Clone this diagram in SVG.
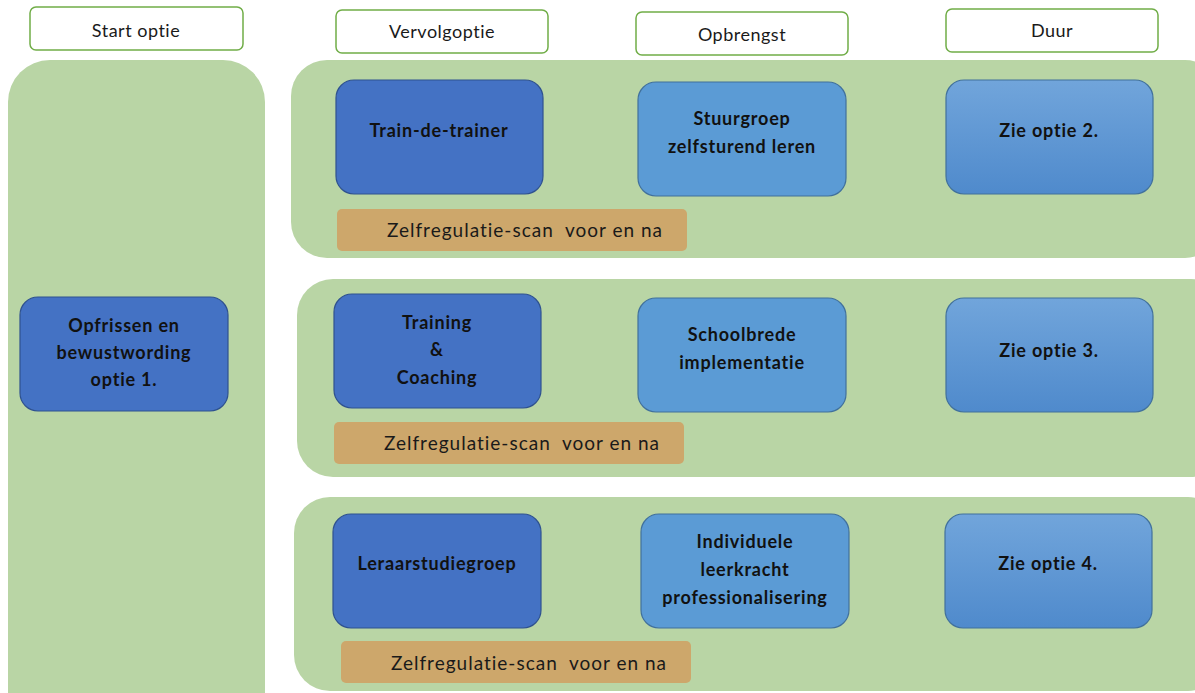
<svg xmlns="http://www.w3.org/2000/svg" width="1195" height="693" viewBox="0 0 1195 693">
<defs>
<linearGradient id="gDur" x1="0" y1="0" x2="0" y2="1">
<stop offset="0" stop-color="#71A5DB"/>
<stop offset="1" stop-color="#4F8ACC"/>
</linearGradient>
<style>
.hdr{fill:#FFFFFF;stroke:#70AD47;stroke-width:1.5}
.panel{fill:#B9D5A5}
.dark{fill:#4472C4;stroke:#2F528F;stroke-width:1.2}
.mid{fill:#5B9BD5;stroke:#41719C;stroke-width:1.2}
.dur{fill:url(#gDur);stroke:#41719C;stroke-width:1.2}
.tan{fill:#CDA76B}
.ht{font-family:Lato,"Liberation Sans",sans-serif;font-size:18px;letter-spacing:0.5px;fill:#1A1A1A;text-anchor:middle}
.bt{font-family:Lato,"Liberation Sans",sans-serif;font-size:18px;letter-spacing:0.8px;font-weight:bold;fill:#111111;text-anchor:middle}
.st{font-family:Lato,"Liberation Sans",sans-serif;font-size:19px;letter-spacing:1px;fill:#1A1A1A;text-anchor:middle;white-space:pre}
</style>
</defs>
<rect width="1195" height="693" fill="#FFFFFF"/>

<g id="headers">
<g id="h-start"><rect class="hdr" x="30" y="7" width="213" height="43" rx="6"/><text class="ht" x="136" y="37">Start optie</text></g>
<g id="h-vervolg"><rect class="hdr" x="336" y="10" width="212" height="43" rx="6"/><text class="ht" x="442" y="38">Vervolgoptie</text></g>
<g id="h-opbrengst"><rect class="hdr" x="636" y="12" width="212" height="43" rx="6"/><text class="ht" x="742" y="41">Opbrengst</text></g>
<g id="h-duur"><rect class="hdr" x="946" y="9" width="212" height="43" rx="6"/><text class="ht" x="1052" y="37">Duur</text></g>
</g>

<g id="panels">
<rect id="p-start" class="panel" x="8" y="60" width="257" height="680" rx="42"/>
<rect id="p-row1" class="panel" x="291" y="60" width="930" height="198" rx="36"/>
<rect id="p-row2" class="panel" x="297" y="279" width="930" height="198" rx="36"/>
<rect id="p-row3" class="panel" x="294" y="497" width="930" height="194" rx="36"/>
<rect x="1195" y="0" width="40" height="693" fill="#FFFFFF"/>
</g>

<g id="connectors"></g>

<g id="n-opfrissen"><rect class="dark" x="20" y="297" width="208" height="114" rx="18"/>
<text class="bt" x="124" y="332">Opfrissen en</text><text class="bt" x="124" y="359">bewustwording</text><text class="bt" x="124" y="386">optie 1.</text></g>

<g id="n-train"><rect class="dark" x="336" y="80" width="207" height="114" rx="18"/><text class="bt" x="439" y="137">Train-de-trainer</text></g>
<g id="n-stuurgroep"><rect class="mid" x="638" y="82" width="208" height="114" rx="18"/><text class="bt" x="742" y="125">Stuurgroep</text><text class="bt" x="742" y="153">zelfsturend leren</text></g>
<g id="n-optie2"><rect class="dur" x="946" y="80" width="207" height="114" rx="18"/><text class="bt" x="1049" y="137">Zie optie 2.</text></g>
<g id="n-scan1"><rect class="tan" x="337" y="209" width="350" height="42" rx="5"/><text class="st" x="525" y="237" xml:space="preserve">Zelfregulatie-scan  voor en na</text></g>

<g id="n-training"><rect class="dark" x="334" y="294" width="207" height="114" rx="18"/><text class="bt" x="437" y="329">Training</text><text class="bt" x="437" y="356">&amp;</text><text class="bt" x="437" y="384">Coaching</text></g>
<g id="n-schoolbrede"><rect class="mid" x="638" y="298" width="208" height="114" rx="18"/><text class="bt" x="742" y="341">Schoolbrede</text><text class="bt" x="742" y="369">implementatie</text></g>
<g id="n-optie3"><rect class="dur" x="946" y="298" width="207" height="114" rx="18"/><text class="bt" x="1049" y="357">Zie optie 3.</text></g>
<g id="n-scan2"><rect class="tan" x="334" y="422" width="350" height="42" rx="5"/><text class="st" x="522" y="450" xml:space="preserve">Zelfregulatie-scan  voor en na</text></g>

<g id="n-leraar"><rect class="dark" x="333" y="514" width="208" height="114" rx="18"/><text class="bt" x="437" y="570">Leraarstudiegroep</text></g>
<g id="n-individuele"><rect class="mid" x="641" y="514" width="208" height="114" rx="18"/><text class="bt" x="745" y="548">Individuele</text><text class="bt" x="745" y="576">leerkracht</text><text class="bt" x="745" y="604">professionalisering</text></g>
<g id="n-optie4"><rect class="dur" x="945" y="514" width="207" height="114" rx="18"/><text class="bt" x="1048" y="570">Zie optie 4.</text></g>
<g id="n-scan3"><rect class="tan" x="341" y="641" width="350" height="42" rx="5"/><text class="st" x="529" y="670" xml:space="preserve">Zelfregulatie-scan  voor en na</text></g>
</svg>
